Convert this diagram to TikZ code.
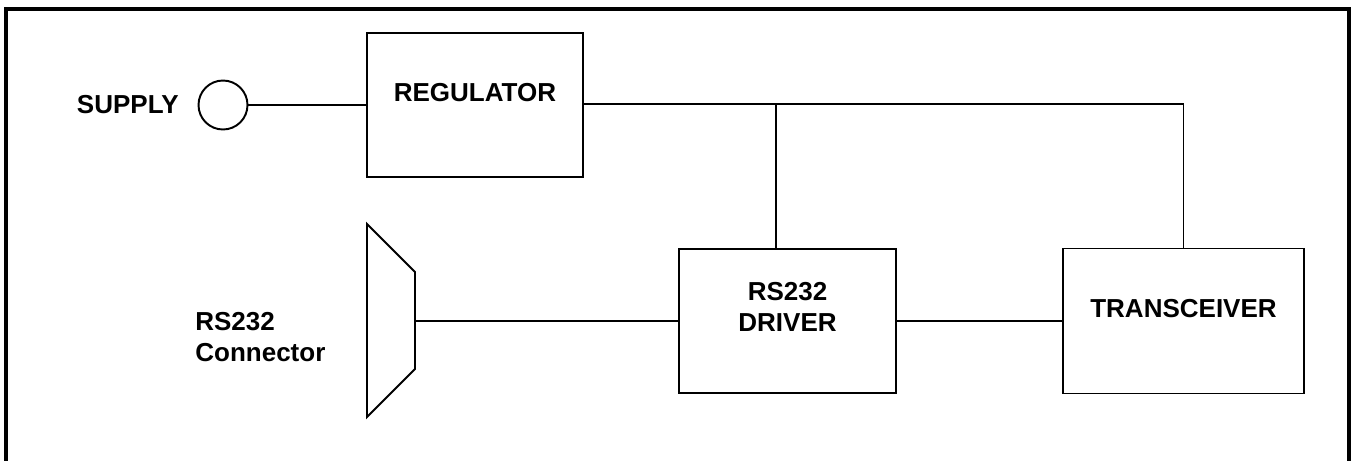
\documentclass[tikz,border=0pt]{standalone}
\usepackage{fontspec}
\setmainfont{Liberation Sans}

\tikzset{
	bdiag/.style={
			x=0.02cm, y=-0.02cm,
			every node/.style={font=\fontsize{14.8}{17.6}\selectfont\bfseries, inner sep=0pt},
			blk/.style={draw, line width=1.1pt, minimum height=2.88cm, align=center},
			wire/.style={line width=1.1pt},
			frame/.style={line width=1.9pt},
		}
}

\begin{document}
\begin{tikzpicture}[bdiag]
		\useasboundingbox (0,0) rectangle (1351,460);
		% outer frame, open at the bottom
		\draw[frame] (6,470) -- (6,9) -- (1349,9) -- (1349,470);

		% supply input
		\node[circle, draw, line width=1.1pt, minimum size=0.98cm] (sup) at (223,105) {};
		\node[anchor=east] (suplbl) at (179,105) {SUPPLY};

		% blocks
		\node[blk, minimum width=4.32cm, text depth=0.52cm] (reg) at (475,105) {REGULATOR};
		\node[blk, minimum width=4.34cm, text depth=0.58cm] (drv) at (787.5,321) {RS232\\DRIVER};
		\node[blk, minimum width=4.82cm, minimum height=2.9cm, text depth=0.5cm] (trx) at (1183.5,321) {TRANSCEIVER};

		% connector
		\draw[wire] (367,224) -- (415,272) -- (415,369) -- (367,417) -- cycle;
		\coordinate (conn) at (415,321);
		\node[anchor=west, align=left] (connlbl) at (195,337.5) {RS232\\Connector};

		% wiring
		\coordinate (tap) at (776,104);
		\draw[wire] (sup.east) -- (reg.west);
		\draw[wire] (reg.east |- tap) -- (trx.north |- tap) -- (trx.north);
		\draw[wire] (tap) -- (tap |- drv.north);
		\draw[wire] (conn) -- (drv.west);
		\draw[wire] (drv.east) -- (trx.west);
	\end{tikzpicture}
\end{document}
